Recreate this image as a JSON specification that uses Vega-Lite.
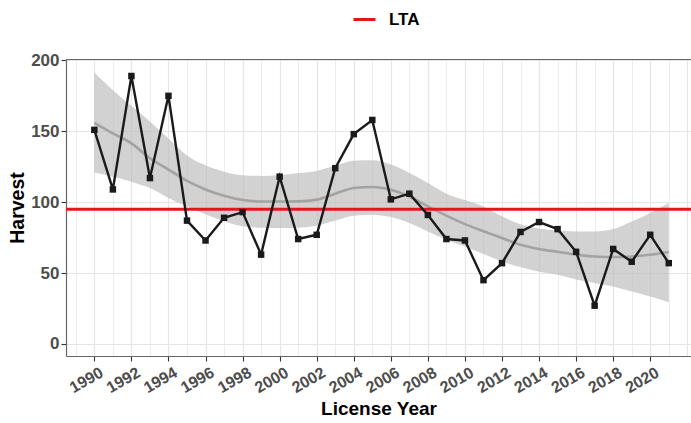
{
  "$schema": "https://vega.github.io/schema/vega-lite/v6.json",
  "width": 625,
  "height": 297,
  "autosize": "none",
  "padding": {"left": 66, "top": 59, "right": 0, "bottom": 67},
  "background": "white",
  "config": {
    "view": {"stroke": null},
    "font": "Liberation Sans"
  },
  "datasets": {
    "harvest": [
      {"year": 1990, "harvest": 151}, {"year": 1991, "harvest": 109}, {"year": 1992, "harvest": 189},
      {"year": 1993, "harvest": 117}, {"year": 1994, "harvest": 175}, {"year": 1995, "harvest": 87},
      {"year": 1996, "harvest": 73}, {"year": 1997, "harvest": 89}, {"year": 1998, "harvest": 93},
      {"year": 1999, "harvest": 63}, {"year": 2000, "harvest": 118}, {"year": 2001, "harvest": 74},
      {"year": 2002, "harvest": 77}, {"year": 2003, "harvest": 124}, {"year": 2004, "harvest": 148},
      {"year": 2005, "harvest": 158}, {"year": 2006, "harvest": 102}, {"year": 2007, "harvest": 106},
      {"year": 2008, "harvest": 91}, {"year": 2009, "harvest": 74}, {"year": 2010, "harvest": 73},
      {"year": 2011, "harvest": 45}, {"year": 2012, "harvest": 57}, {"year": 2013, "harvest": 79},
      {"year": 2014, "harvest": 86}, {"year": 2015, "harvest": 81}, {"year": 2016, "harvest": 65},
      {"year": 2017, "harvest": 27}, {"year": 2018, "harvest": 67}, {"year": 2019, "harvest": 58},
      {"year": 2020, "harvest": 77}, {"year": 2021, "harvest": 57}
    ],
    "smooth": [
      {"year": 1990, "fit": 156, "lo": 121, "hi": 191.5},
      {"year": 1991, "fit": 148.5, "lo": 118, "hi": 179},
      {"year": 1992, "fit": 141.5, "lo": 114.5, "hi": 168},
      {"year": 1993, "fit": 131, "lo": 110, "hi": 157},
      {"year": 1994, "fit": 123, "lo": 103, "hi": 145},
      {"year": 1995, "fit": 115, "lo": 97, "hi": 133},
      {"year": 1996, "fit": 109, "lo": 91.5, "hi": 126},
      {"year": 1997, "fit": 104.5, "lo": 86.5, "hi": 121.5},
      {"year": 1998, "fit": 101.5, "lo": 83, "hi": 119},
      {"year": 1999, "fit": 100.5, "lo": 82, "hi": 118.5},
      {"year": 2000, "fit": 100.5, "lo": 81.8, "hi": 119},
      {"year": 2001, "fit": 100.6, "lo": 82, "hi": 120.5},
      {"year": 2002, "fit": 101.8, "lo": 83.4, "hi": 122},
      {"year": 2003, "fit": 106, "lo": 87, "hi": 125.8},
      {"year": 2004, "fit": 110, "lo": 90.5, "hi": 129.3},
      {"year": 2005, "fit": 110.7, "lo": 91.2, "hi": 129.5},
      {"year": 2006, "fit": 108.8, "lo": 89.5, "hi": 126.5},
      {"year": 2007, "fit": 104, "lo": 85.3, "hi": 120.6},
      {"year": 2008, "fit": 97, "lo": 79.4, "hi": 113.6},
      {"year": 2009, "fit": 90.5, "lo": 73.5, "hi": 106},
      {"year": 2010, "fit": 84.5, "lo": 68.8, "hi": 101.5},
      {"year": 2011, "fit": 79.5, "lo": 63.5, "hi": 97},
      {"year": 2012, "fit": 74.7, "lo": 58.2, "hi": 90},
      {"year": 2013, "fit": 70, "lo": 54.2, "hi": 84.5},
      {"year": 2014, "fit": 67, "lo": 51, "hi": 81.5},
      {"year": 2015, "fit": 65, "lo": 48.8, "hi": 80},
      {"year": 2016, "fit": 63, "lo": 45.5, "hi": 79.4},
      {"year": 2017, "fit": 61.7, "lo": 43, "hi": 79.4},
      {"year": 2018, "fit": 61.3, "lo": 40.5, "hi": 81},
      {"year": 2019, "fit": 61.7, "lo": 37, "hi": 86.4},
      {"year": 2020, "fit": 62.9, "lo": 33.4, "hi": 92.4},
      {"year": 2021, "fit": 64.8, "lo": 29.5, "hi": 99.4}
    ],
    "lta": [{"series": "LTA", "value": 95}]
  },
  "layer": [
    {
      "data": {"name": "smooth"},
      "mark": {"type": "area", "color": "#bababa", "opacity": 0.65, "interpolate": "monotone"},
      "encoding": {
        "x": {
          "field": "year", "type": "quantitative",
          "scale": {"domain": [1988.47, 2022.2], "nice": false, "zero": false},
          "axis": {
            "orient": "bottom",
            "title": "License Year",
            "values": [1989,1990,1991,1992,1993,1994,1995,1996,1997,1998,1999,2000,2001,2002,2003,2004,2005,2006,2007,2008,2009,2010,2011,2012,2013,2014,2015,2016,2017,2018,2019,2020,2021,2022],
            "format": "d",
            "labelExpr": "(datum.value % 2 === 0 && datum.value <= 2020) ? datum.label : ''",
            "labelOverlap": false,
            "labelFlush": false,
            "labelBound": false,
            "labelAngle": -30,
            "labelAlign": "right",
            "labelBaseline": "top",
            "labelFontSize": 16,
            "labelFontWeight": "bold",
            "labelColor": "#4d4d4d",
            "labelPadding": 3,
            "labelOffset": 3,
            "tickColor": "#333333",
            "tickSize": 5,
            "tickWidth": 1.1,
            "tickOpacity": {"condition": {"test": "datum.value % 2 === 0 && datum.value <= 2020", "value": 1}, "value": 0},
            "domainColor": "#666666",
            "domainWidth": 1.2,
            "grid": true,
            "gridColor": "#e5e5e5",
            "gridWidth": {"condition": {"test": "datum.value % 2 === 0", "value": 1.2}, "value": 0.7},
            "titleFontSize": 19,
            "titleFontWeight": "bold",
            "titleColor": "#000000",
            "titlePadding": 4
          }
        },
        "y": {
          "field": "lo", "type": "quantitative",
          "title": "Harvest",
          "scale": {"domain": [-8.5, 201], "nice": false, "zero": false},
          "axis": {
            "values": [0, 25, 50, 75, 100, 125, 150, 175, 200],
            "labelExpr": "datum.value % 50 === 0 ? datum.label : ''",
            "labelFontSize": 17,
            "labelFontWeight": "bold",
            "labelColor": "#4d4d4d",
            "labelPadding": 2,
            "tickColor": "#333333",
            "tickSize": 5,
            "tickWidth": 1.1,
            "tickOpacity": {"condition": {"test": "datum.value % 50 === 0", "value": 1}, "value": 0},
            "domainColor": "#666666",
            "domainWidth": 1.2,
            "grid": true,
            "gridColor": "#e5e5e5",
            "gridWidth": {"condition": {"test": "datum.value % 50 === 0", "value": 1.2}, "value": 0.7},
            "titleFontSize": 19.5,
            "titleFontWeight": "bold",
            "titleColor": "#000000",
            "titlePadding": 3
          }
        },
        "y2": {"field": "hi"}
      }
    },
    {
      "data": {"name": "smooth"},
      "mark": {"type": "line", "color": "#a3a3a3", "strokeWidth": 2.6, "interpolate": "monotone"},
      "encoding": {
        "x": {
          "field": "year", "type": "quantitative",
          "axis": {"orient": "top", "title": null, "labels": false, "ticks": false, "grid": false, "domainColor": "#666666", "domainWidth": 1.2}
        },
        "y": {"field": "fit", "type": "quantitative", "title": "Harvest"}
      }
    },
    {
      "data": {"name": "lta"},
      "mark": {"type": "rule", "strokeWidth": 3},
      "encoding": {
        "y": {"field": "value", "type": "quantitative", "title": "Harvest"},
        "color": {
          "field": "series", "type": "nominal",
          "scale": {"domain": ["LTA"], "range": ["#e8141c"]},
          "legend": {
            "title": null,
            "orient": "none",
            "legendX": 286,
            "legendY": -52,
            "direction": "horizontal",
            "symbolType": "stroke",
            "symbolSize": 484,
            "symbolStrokeWidth": 3,
            "labelFontSize": 17,
            "labelFontWeight": "bold",
            "labelColor": "#000000",
            "labelOffset": 12,
            "padding": 0
          }
        }
      }
    },
    {
      "data": {"name": "harvest"},
      "mark": {"type": "line", "color": "#1a1a1a", "strokeWidth": 2.4},
      "encoding": {
        "x": {"field": "year", "type": "quantitative", "axis": null},
        "y": {"field": "harvest", "type": "quantitative", "title": "Harvest"}
      }
    },
    {
      "data": {"name": "harvest"},
      "mark": {"type": "point", "shape": "square", "filled": true, "size": 42, "color": "#1a1a1a", "opacity": 1},
      "encoding": {
        "x": {"field": "year", "type": "quantitative", "axis": null},
        "y": {"field": "harvest", "type": "quantitative", "title": "Harvest"}
      }
    }
  ],
  "resolve": {"axis": {"x": "independent"}}
}
